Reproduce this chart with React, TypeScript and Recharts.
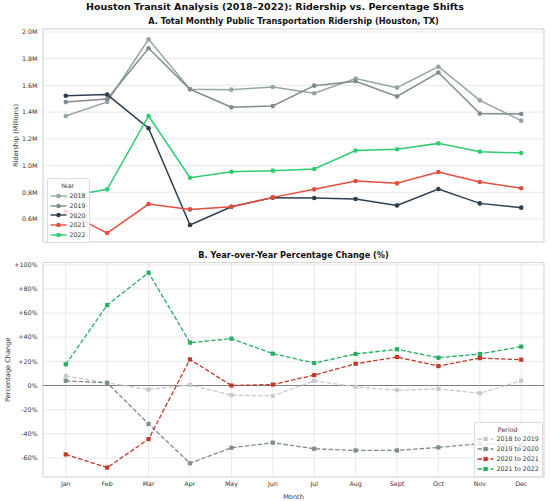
import React from "react";
import {
  CartesianGrid,
  Legend,
  Line,
  LineChart,
  ReferenceArea,
  ReferenceLine,
  XAxis,
  YAxis,
} from "recharts";

const MONTHS = ["Jan", "Feb", "Mar", "Apr", "May", "Jun", "Jul", "Aug", "Sept", "Oct", "Nov", "Dec"];

// Monthly ridership, millions
const RIDERSHIP_2018 = [1.371, 1.476, 1.945, 1.571, 1.568, 1.588, 1.541, 1.651, 1.583, 1.74, 1.488, 1.336];
const RIDERSHIP_2019 = [1.475, 1.498, 1.878, 1.571, 1.436, 1.446, 1.598, 1.631, 1.518, 1.696, 1.389, 1.386];
const RIDERSHIP_2020 = [1.523, 1.531, 1.279, 0.555, 0.692, 0.76, 0.757, 0.75, 0.702, 0.825, 0.717, 0.685];
const RIDERSHIP_2021 = [0.655, 0.495, 0.712, 0.672, 0.692, 0.762, 0.822, 0.884, 0.867, 0.952, 0.877, 0.83];
const RIDERSHIP_2022 = [0.766, 0.822, 1.371, 0.909, 0.954, 0.962, 0.974, 1.112, 1.122, 1.166, 1.104, 1.094];

// Year-over-year change, percent
const PCT_2018_2019 = [7.8, 2.2, -3.3, 0.5, -8.0, -8.6, 3.9, -1.1, -3.9, -2.8, -6.4, 3.9];
const PCT_2019_2020 = [3.9, 2.2, -31.9, -64.4, -51.6, -47.4, -52.4, -53.8, -53.8, -51.3, -48.2, -49.8];
const PCT_2020_2021 = [-57.1, -68.0, -44.4, 21.6, 0.0, 0.8, 8.6, 18.0, 23.6, 16.1, 22.7, 21.4];
const PCT_2021_2022 = [17.5, 66.6, 93.5, 35.5, 38.8, 26.4, 18.6, 26.1, 30.0, 23.0, 26.1, 32.2];

const RIDERSHIP_TICKS = [0.6, 0.8, 1.0, 1.2, 1.4, 1.6, 1.8, 2.0];
const PCT_TICKS = [-60, -40, -20, 0, 20, 40, 60, 80, 100];
const MONTH_TICKS = MONTHS.map((_, i) => i);

const YEAR_SERIES = [
  { key: "2018", values: RIDERSHIP_2018, colour: "#95a5a6" },
  { key: "2019", values: RIDERSHIP_2019, colour: "#7f8c8d" },
  { key: "2020", values: RIDERSHIP_2020, colour: "#2c3e50" },
  { key: "2021", values: RIDERSHIP_2021, colour: "#e74c3c" },
  { key: "2022", values: RIDERSHIP_2022, colour: "#2ecc71" },
];

const PERIOD_SERIES = [
  { key: "2018 to 2019", values: PCT_2018_2019, colour: "#c5cacc" },
  { key: "2019 to 2020", values: PCT_2019_2020, colour: "#7f8c8d" },
  { key: "2020 to 2021", values: PCT_2020_2021, colour: "#c0392b" },
  { key: "2021 to 2022", values: PCT_2021_2022, colour: "#27ae60" },
];

type Row = { idx: number; month: string; [k: string]: number | string };

function buildRows(series: { key: string; values: number[] }[]): Row[] {
  return MONTHS.map((month, idx) => {
    const row: Row = { idx, month };
    for (const s of series) row[s.key] = s.values[idx];
    return row;
  });
}

const ridershipRows = buildRows(YEAR_SERIES);
const pctRows = buildRows(PERIOD_SERIES);

const FONT = "'DejaVu Sans', sans-serif";
const GRID = "#e2e2e2";
const TEXT = "#333";
const TICK = { fill: TEXT, fontSize: 6.3 };
const X_DOMAIN: [number, number] = [-0.55, 11.55];
const R_DOMAIN: [number, number] = [0.428, 2.022];
const P_DOMAIN: [number, number] = [-75.8, 101.9];

function squareDot(colour: string) {
  return (props: any) => {
    const { cx, cy, index } = props;
    if (cx == null || cy == null) return <g key={index} />;
    return <rect key={index} x={cx - 2.1} y={cy - 2.1} width={4.2} height={4.2} fill={colour} />;
  };
}

function rotatedLabel(text: string, x: number, fallbackY: number) {
  return (props: any) => {
    const vb = props.viewBox;
    const y = vb && vb.height ? vb.y + vb.height / 2 : fallbackY;
    return (
      <text
        x={x}
        y={y}
        transform={`rotate(-90 ${x} ${y})`}
        textAnchor="middle"
        dominantBaseline="central"
        fontSize={6.6}
        fill={TEXT}
      >
        {text}
      </text>
    );
  };
}

function LegendBox({
  title,
  items,
  square,
}: {
  title: string;
  items: { key: string; colour: string }[];
  square?: boolean;
}) {
  return (
    <div
      style={{
        background: "rgba(255,255,255,0.82)",
        border: "1px solid #dcdcdc",
        borderRadius: 2,
        padding: "2px 3px 2px 2px",
        fontSize: 6.3,
        color: TEXT,
        lineHeight: "10px",
      }}
    >
      <div style={{ textAlign: "center" }}>{title}</div>
      {items.map((it) => (
        <div key={it.key} style={{ display: "flex", alignItems: "center", height: 9.8 }}>
          <svg width={17} height={8} style={{ marginRight: 3 }}>
            <line
              x1={0.5}
              y1={4}
              x2={16.5}
              y2={4}
              stroke={it.colour}
              strokeWidth={1.4}
              strokeDasharray={square ? "4.5 2" : undefined}
            />
            {square ? (
              <rect x={6.4} y={1.9} width={4.2} height={4.2} fill={it.colour} />
            ) : (
              <circle cx={8.5} cy={4} r={2.3} fill={it.colour} />
            )}
          </svg>
          <span>{it.key}</span>
        </div>
      ))}
    </div>
  );
}

export default function App() {
  return (
    <div
      style={{
        position: "absolute",
        left: 0,
        top: 0,
        width: 550,
        height: 501,
        background: "#fff",
        fontFamily: FONT,
        color: "#111",
      }}
    >
      <div
        style={{
          position: "absolute",
          top: 1,
          left: 0,
          width: 550,
          textAlign: "center",
          fontWeight: "bold",
          fontSize: 9.5,
          lineHeight: "12px",
        }}
      >
        Houston Transit Analysis (2018–2022): Ridership vs. Percentage Shifts
      </div>
      <div
        style={{
          position: "absolute",
          top: 15.5,
          left: 43,
          width: 501,
          textAlign: "center",
          fontWeight: "bold",
          fontSize: 8.2,
          lineHeight: "11px",
          zIndex: 2,
        }}
      >
        A. Total Monthly Public Transportation Ridership (Houston, TX)
      </div>
      <div
        style={{
          position: "absolute",
          top: 249.5,
          left: 43,
          width: 501,
          textAlign: "center",
          fontWeight: "bold",
          fontSize: 8.2,
          lineHeight: "11px",
          zIndex: 2,
        }}
      >
        B. Year-over-Year Percentage Change (%)
      </div>

      <div style={{ position: "absolute", left: 0, top: 0 }}>
        <LineChart width={550} height={250} data={ridershipRows} margin={{ top: 29, right: 6, bottom: 8, left: 0 }}>
          <CartesianGrid stroke={GRID} strokeWidth={0.8} />
          <XAxis
            dataKey="idx"
            type="number"
            domain={X_DOMAIN}
            ticks={MONTH_TICKS}
            allowDataOverflow
            height={0}
            tick={false}
            tickLine={false}
            axisLine={false}
          />
          <YAxis
            type="number"
            domain={R_DOMAIN}
            ticks={RIDERSHIP_TICKS}
            allowDataOverflow
            width={43}
            tick={TICK}
            tickFormatter={(v: number) => `${v.toFixed(1)}M`}
            tickLine={false}
            axisLine={false}
            tickSize={0}
            tickMargin={5.5}
            label={rotatedLabel("Ridership (Millions)", 15.5, 135.5)}
          />
          <ReferenceArea
            x1={X_DOMAIN[0]}
            x2={X_DOMAIN[1]}
            y1={R_DOMAIN[0]}
            y2={R_DOMAIN[1]}
            fill="none"
            stroke="#d8d8d8"
            strokeWidth={1}
            ifOverflow="visible"
          />
          {YEAR_SERIES.map((s) => (
            <Line
              key={s.key}
              dataKey={s.key}
              name={s.key}
              type="linear"
              stroke={s.colour}
              strokeWidth={1.5}
              dot={{ r: 2.3, fill: s.colour, stroke: "none" }}
              activeDot={false}
              isAnimationActive={false}
            />
          ))}
          <Legend
            layout="vertical"
            align="center"
            verticalAlign="middle"
            wrapperStyle={{ left: 46.5, top: 178, width: "auto", height: "auto" }}
            content={() => <LegendBox title="Year" items={YEAR_SERIES} />}
          />
        </LineChart>
      </div>

      <div style={{ position: "absolute", left: 0, top: 250 }}>
        <LineChart width={550} height={251} data={pctRows} margin={{ top: 12.5, right: 6, bottom: 0, left: 0 }}>
          <CartesianGrid stroke={GRID} strokeWidth={0.8} />
          <XAxis
            dataKey="idx"
            type="number"
            domain={X_DOMAIN}
            ticks={MONTH_TICKS}
            allowDataOverflow
            height={24}
            tick={TICK}
            tickFormatter={(i: number) => MONTHS[i] ?? ""}
            tickLine={false}
            axisLine={false}
            tickSize={0}
            tickMargin={5}
            label={{ value: "Month", position: "insideBottom", offset: 2.5, fontSize: 6.6, fill: TEXT }}
          />
          <YAxis
            type="number"
            domain={P_DOMAIN}
            ticks={PCT_TICKS}
            allowDataOverflow
            width={43}
            tick={TICK}
            tickFormatter={(v: number) => `${v > 0 ? "+" : ""}${v}%`}
            tickLine={false}
            axisLine={false}
            tickSize={0}
            tickMargin={5.5}
            label={rotatedLabel("Percentage Change", 7.5, 119.75)}
          />
          <ReferenceArea
            x1={X_DOMAIN[0]}
            x2={X_DOMAIN[1]}
            y1={P_DOMAIN[0]}
            y2={P_DOMAIN[1]}
            fill="none"
            stroke="#d8d8d8"
            strokeWidth={1}
            ifOverflow="visible"
          />
          <ReferenceLine y={0} stroke="#808080" strokeWidth={1.2} />
          {PERIOD_SERIES.map((s) => (
            <Line
              key={s.key}
              dataKey={s.key}
              name={s.key}
              type="linear"
              stroke={s.colour}
              strokeWidth={1.3}
              strokeDasharray="4.5 2"
              dot={squareDot(s.colour)}
              activeDot={false}
              isAnimationActive={false}
            />
          ))}
          <Legend
            layout="vertical"
            align="center"
            verticalAlign="middle"
            wrapperStyle={{ left: 473.5, top: 171.5, width: "auto", height: "auto" }}
            content={() => <LegendBox title="Period" items={PERIOD_SERIES} square />}
          />
        </LineChart>
      </div>
    </div>
  );
}
